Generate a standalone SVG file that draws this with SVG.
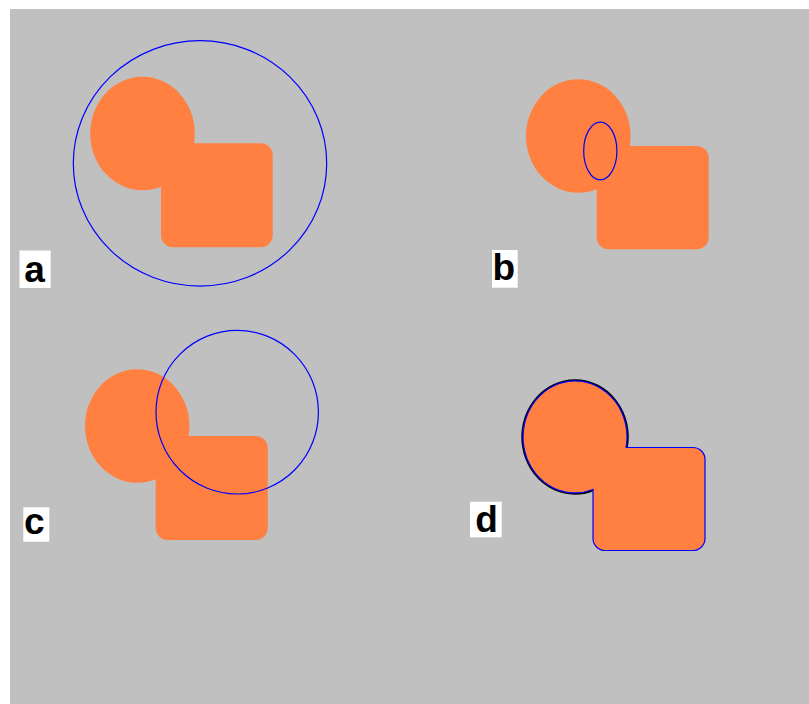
<svg xmlns="http://www.w3.org/2000/svg" width="809" height="704" viewBox="0 0 809 704">
<style>
.shape{fill:#ff8040;stroke:none}
.ring{fill:none;stroke:#0000ff;stroke-width:1.2}
.lbox{fill:#ffffff}
.lbl{font-family:"Liberation Sans",Arial,sans-serif;font-weight:bold;font-size:37px;fill:#000000;text-anchor:middle}
</style>
<rect x="0" y="0" width="809" height="704" fill="#ffffff"/>
<rect x="10" y="9" width="799" height="695" fill="#c0c0c0"/>

<g id="panel-a">
  <ellipse class="shape" cx="142.5" cy="133.5" rx="52.3" ry="56.7"/>
  <rect class="shape" x="161" y="143.3" width="111.7" height="104" rx="12" ry="12"/>
  <ellipse class="ring" cx="200" cy="163.4" rx="126.7" ry="122.7"/>
  <rect class="lbox" x="19.5" y="250.5" width="31.2" height="37.5"/>
  <text class="lbl" x="34.6" y="281.5">a</text>
</g>

<g id="panel-b">
  <ellipse class="shape" cx="578.3" cy="136" rx="52.3" ry="56.7"/>
  <rect class="shape" x="596.7" y="146" width="112" height="103.3" rx="12" ry="12"/>
  <ellipse class="ring" cx="600.3" cy="151" rx="16.6" ry="28.8"/>
  <rect class="lbox" x="492" y="250" width="25.7" height="37.7"/>
  <text class="lbl" x="503.7" y="279.5">b</text>
</g>

<g id="panel-c">
  <ellipse class="shape" cx="137.2" cy="426" rx="52.2" ry="56.7"/>
  <rect class="shape" x="155.7" y="436" width="112" height="104" rx="12" ry="12"/>
  <ellipse class="ring" cx="237.2" cy="412.2" rx="81.2" ry="81.8"/>
  <rect class="lbox" x="23.3" y="507.3" width="26" height="34.4"/>
  <text class="lbl" x="34.4" y="534">c</text>
</g>

<g id="panel-d">
  <path d="M 593 489.5 A 52 56 0 1 1 626.1 447.5" fill="none" stroke="#000000" stroke-width="3.5"/>
  <path class="shape" d="M 626.1 447.5 L 693 447.5 A 12 12 0 0 1 705 459.5 L 705 538.5 A 12 12 0 0 1 693 550.5 L 605 550.5 A 12 12 0 0 1 593 538.5 L 593 489.5 A 52 56 0 1 1 626.1 447.5 Z"/>
  <path d="M 626.1 447.5 L 693 447.5 A 12 12 0 0 1 705 459.5 L 705 538.5 A 12 12 0 0 1 693 550.5 L 605 550.5 A 12 12 0 0 1 593 538.5 L 593 489.5 A 52 56 0 1 1 626.1 447.5 Z" fill="none" stroke="#0000ff" stroke-width="1.2"/>
  <rect class="lbox" x="470" y="501.7" width="31.7" height="35.6"/>
  <text class="lbl" x="486.5" y="531.5">d</text>
</g>
</svg>
